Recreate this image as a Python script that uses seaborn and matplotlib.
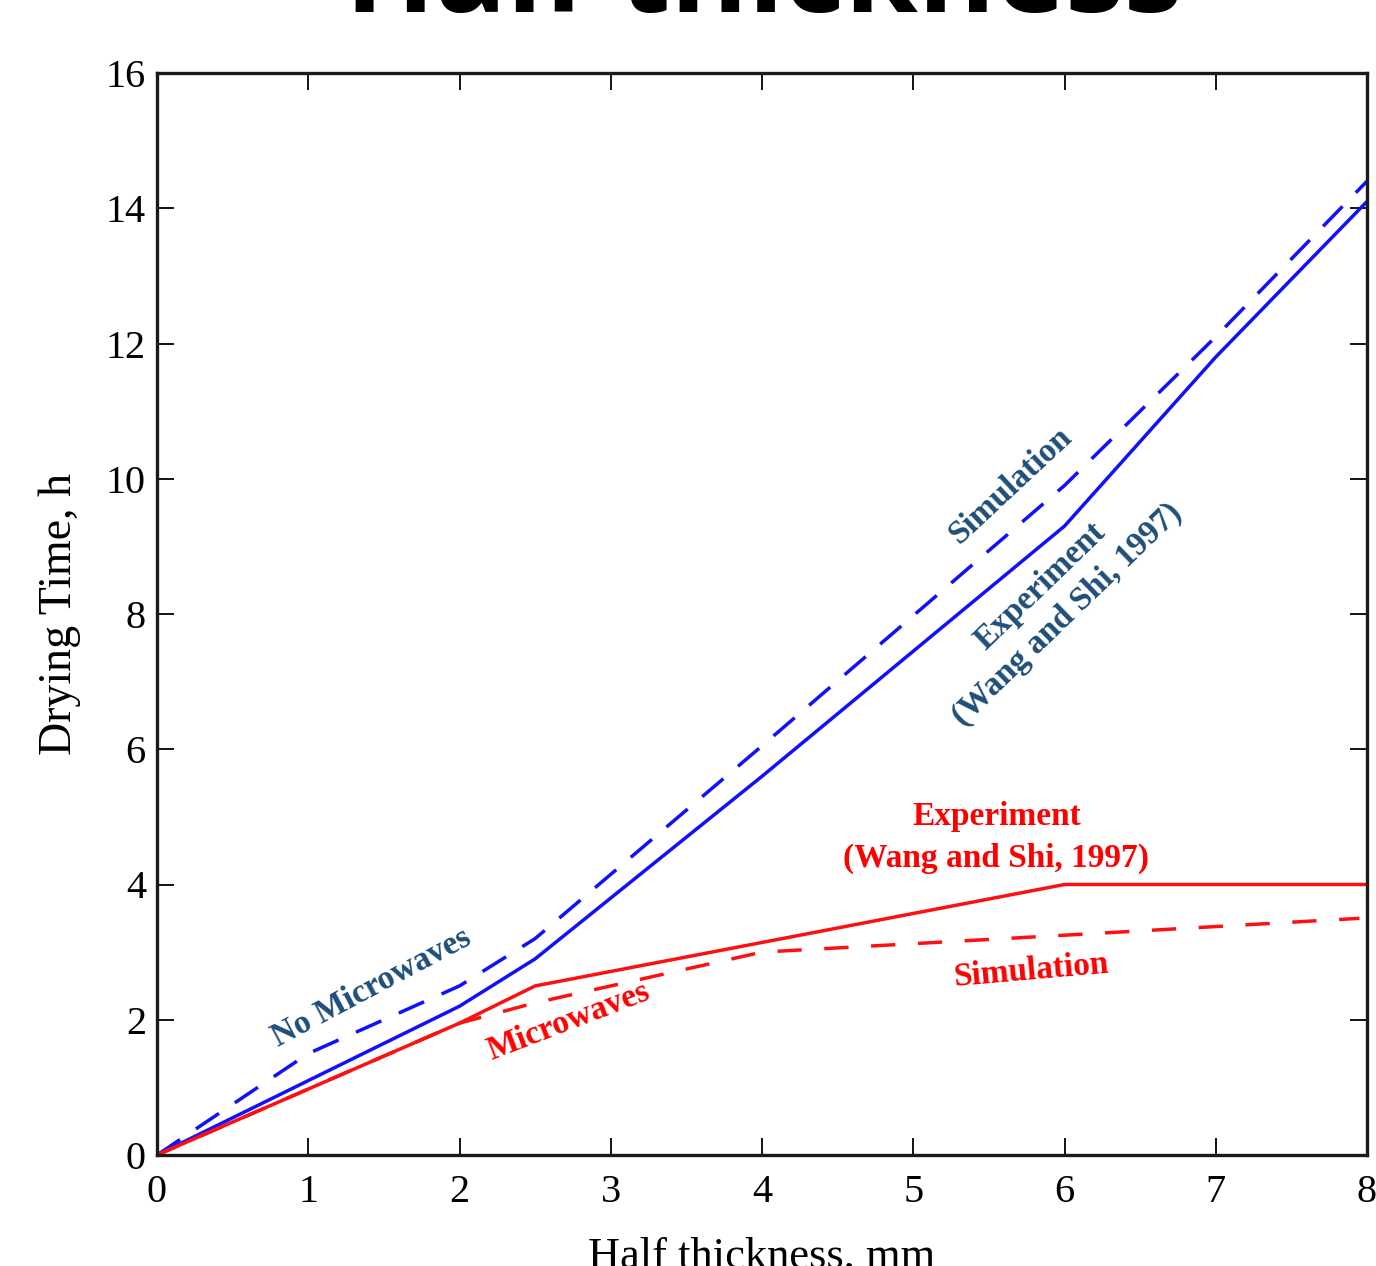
import matplotlib
matplotlib.use("Agg")
import matplotlib.pyplot as plt
import seaborn as sns

# half thickness (mm) and drying time (h)
no_mw_exp_x = [0, 1, 2, 2.5, 4, 6, 7, 8]
no_mw_exp_y = [0, 1.1, 2.2, 2.9, 5.6, 9.3, 11.8, 14.1]
no_mw_sim_x = [0, 1, 2, 2.5, 4, 6, 7, 8]
no_mw_sim_y = [0, 1.5, 2.5, 3.2, 6.05, 9.9, 12.1, 14.4]
mw_exp_x = [0, 2, 2.5, 6, 8]
mw_exp_y = [0, 1.95, 2.5, 4.0, 4.0]
mw_sim_x = [0, 2, 2.5, 4, 6, 7.95]
mw_sim_y = [0, 1.95, 2.25, 3.0, 3.25, 3.5]

sns.set_theme(style="ticks")
plt.rcParams['font.family'] = ['Liberation Serif', 'DejaVu Serif']
plt.rcParams.update({'text.color': 'black', 'axes.labelcolor': 'black',
                     'xtick.color': 'black', 'ytick.color': 'black'})

fig = plt.figure(figsize=(13.76, 12.66), dpi=100)
ax = fig.add_axes([157/1376, 111/1266, 1210/1376, 1082/1266])

sns.lineplot(x=no_mw_exp_x, y=no_mw_exp_y, color='#1010ff', lw=2.5, ax=ax)
sns.lineplot(x=no_mw_sim_x, y=no_mw_sim_y, color='#1010ff', lw=2.5, ax=ax).lines[-1].set_dashes((8, 5.5))
sns.lineplot(x=mw_exp_x, y=mw_exp_y, color='#ff1010', lw=2.5, ax=ax)
sns.lineplot(x=mw_sim_x, y=mw_sim_y, color='#ff1010', lw=2.5, ax=ax).lines[-1].set_dashes((7, 6.5))

ax.set_xlim(0, 8)
ax.set_ylim(0, 16)
ax.set_xticks(range(0, 9))
ax.set_yticks(range(0, 17, 2))
ax.tick_params(direction='in', length=12, width=1.3, top=True, right=True,
               labelsize=29, pad=8)
ax.tick_params(axis='x', pad=14)
for s in ax.spines.values():
    s.set_linewidth(2.4)
    s.set_color('#1a1a1a')
ax.set_xlabel("Half thickness, mm", fontsize=32, labelpad=18)
ax.set_ylabel("Drying Time, h", fontsize=33, labelpad=18)

dblue = '#1F4E79'
bold = dict(fontweight='bold', fontsize=24, ha='center', va='center', rotation_mode='anchor')
ax.text(1.42, 2.47, "No Microwaves", color=dblue, rotation=28, **bold)
ax.text(2.72, 1.98, "Microwaves", color='red', rotation=21, **bold)
ax.text(5.64, 9.9, "Simulation", color=dblue, rotation=43, **bold)
ax.text(5.93, 8.2, "Experiment\n(Wang and Shi, 1997)", color=dblue, rotation=44,
        linespacing=1.35, **bold)
ax.text(5.55, 4.69, "Experiment\n(Wang and Shi, 1997)", color='red', rotation=0,
        linespacing=1.45, **bold)
ax.text(5.78, 2.72, "Simulation", color='red', rotation=5, **bold)

fig.text(764/1376, 1 - 12/1266, "Half thickness", family='Open Sans', fontweight='bold',
         fontsize=85, ha='center', va='baseline', color='black')

fig.savefig("out.png", dpi=100)
